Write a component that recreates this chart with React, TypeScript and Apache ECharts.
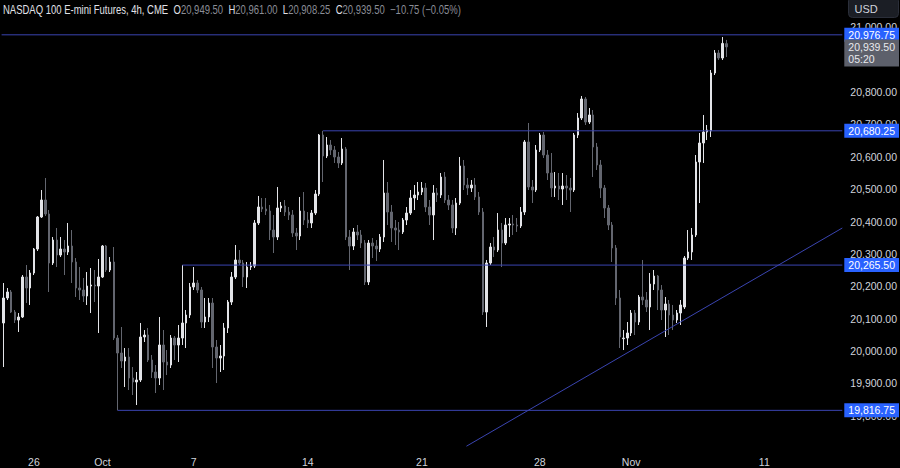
import React, { useEffect, useRef } from "react";
import * as echarts from "echarts";

// ---- data (NASDAQ 100 E-mini, 4h bars) ----
const opens = [
  20086.6, 20163.8, 20182.3, 20120.5, 20095.8, 20105.1, 20228.6, 20194.7, 20241, 20315.1,
  20414, 20466.5, 20423.3, 20271.9, 20342.9, 20296.6, 20315.1, 20305.9, 20324.4, 20275,
  20194.7, 20188.5, 20170, 20200.8, 20203.9, 20200.8, 20228.6, 20324.4, 20250.3, 20275,
  20040.2, 19993.9, 19969.2, 19981.5, 19916.7, 19904.3, 19910.5, 20043.3, 20049.5, 19972.3,
  19935.2, 19916.7, 20018.6, 19966.1, 19956.8, 20040.2, 20018.6, 20040.2, 20086.6, 20111.3,
  20197.8, 20210.1, 20188.5, 20089.6, 20105.1, 20148.3, 20012.4, 19978.4, 19984.6, 20071.1,
  20151.4, 20228.6, 20281.2, 20271.9, 20228.6, 20259.5, 20262.6, 20395.5, 20444.9, 20438.7,
  20432.5, 20373.8, 20352.2, 20441.8, 20448, 20429.4, 20420.2, 20364.6, 20355.3, 20432.5,
  20404.7, 20395.5, 20426.3, 20485, 20667.3, 20602.4, 20636.4, 20620.9, 20599.3, 20580.8,
  20624, 20352.2, 20324.4, 20367.7, 20358.4, 20333.7, 20213.2, 20333.7, 20324.4, 20315.1,
  20352.2, 20488.1, 20429.4, 20380, 20373.8, 20367.7, 20404.7, 20426.3, 20472.7, 20481.9,
  20491.2, 20503.6, 20444.9, 20420.2, 20488.1, 20481.9, 20537.5, 20466.5, 20451.1, 20380,
  20457.2, 20571.5, 20512.8, 20503.6, 20512.8, 20475.8, 20429.4, 20120.5, 20271.9, 20321.3,
  20312, 20373.8, 20333.7, 20389.3, 20392.4, 20389.3, 20386.2, 20429.4, 20645.7, 20506.7,
  20497.4, 20620.9, 20667.3, 20605.5, 20549.9, 20503.6, 20509.7, 20500.5, 20509.7, 20503.6,
  20497.4, 20667.3, 20719.8, 20778.5, 20707.4, 20729.1, 20630.2, 20574.6, 20503.6, 20441.8,
  20389.3, 20318.2, 20163.8, 20038, 20040.2, 20055.7, 20117.4, 20089.6, 20166.9, 20157.6,
  20136, 20207, 20231.7, 20188.5, 20126.7, 20145.2, 20111.3, 20095.8, 20117.4, 20136,
  20287.3, 20305.9, 20358.4, 20583.9, 20642.6, 20676.6, 20680, 20858.8, 20920.6, 20905.1,
  20949.5,
];
const closes = [
  20163.8, 20182.3, 20120.5, 20095.8, 20105.1, 20228.6, 20194.7, 20241, 20315.1, 20414,
  20466.5, 20423.3, 20271.9, 20342.9, 20296.6, 20315.1, 20305.9, 20324.4, 20275, 20194.7,
  20188.5, 20170, 20200.8, 20203.9, 20200.8, 20228.6, 20324.4, 20250.3, 20275, 20040.2,
  19993.9, 19969.2, 19981.5, 19916.7, 19904.3, 19910.5, 20043.3, 20049.5, 19972.3, 19935.2,
  19916.7, 20018.6, 19966.1, 19956.8, 20040.2, 20018.6, 20040.2, 20086.6, 20111.3, 20197.8,
  20210.1, 20188.5, 20089.6, 20105.1, 20148.3, 20012.4, 19978.4, 19984.6, 20071.1, 20151.4,
  20228.6, 20281.2, 20271.9, 20228.6, 20259.5, 20262.6, 20395.5, 20444.9, 20438.7, 20432.5,
  20373.8, 20352.2, 20441.8, 20448, 20429.4, 20420.2, 20364.6, 20355.3, 20432.5, 20404.7,
  20395.5, 20426.3, 20485, 20667.3, 20602.4, 20636.4, 20620.9, 20599.3, 20580.8, 20624,
  20352.2, 20324.4, 20367.7, 20358.4, 20333.7, 20213.2, 20333.7, 20324.4, 20315.1, 20352.2,
  20488.1, 20429.4, 20380, 20373.8, 20367.7, 20404.7, 20426.3, 20472.7, 20481.9, 20491.2,
  20503.6, 20444.9, 20420.2, 20488.1, 20481.9, 20537.5, 20466.5, 20451.1, 20380, 20457.2,
  20571.5, 20512.8, 20503.6, 20512.8, 20475.8, 20429.4, 20120.5, 20271.9, 20321.3, 20312,
  20373.8, 20333.7, 20389.3, 20392.4, 20389.3, 20386.2, 20429.4, 20645.7, 20506.7, 20497.4,
  20620.9, 20667.3, 20605.5, 20549.9, 20503.6, 20509.7, 20500.5, 20509.7, 20503.6, 20497.4,
  20667.3, 20719.8, 20778.5, 20707.4, 20729.1, 20630.2, 20574.6, 20503.6, 20441.8, 20389.3,
  20318.2, 20163.8, 20043.3, 20040.2, 20055.7, 20117.4, 20089.6, 20166.9, 20157.6, 20136,
  20207, 20231.7, 20188.5, 20126.7, 20145.2, 20111.3, 20095.8, 20117.4, 20142.2, 20287.3,
  20305.9, 20358.4, 20583.9, 20642.6, 20676.6, 20682.7, 20858.8, 20920.6, 20905.1, 20950.25,
  20939.5,
];
const lows = [
  19950.6, 20157.6, 20117.4, 20086.6, 20058.8, 20102, 20148.3, 20142.2, 20234.8, 20309,
  20410.9, 20417.1, 20182.3, 20265.7, 20259.5, 20290.4, 20234.8, 20296.6, 20210.1, 20166.9,
  20157.6, 20151.4, 20142.2, 20117.4, 20151.4, 20055.7, 20225.6, 20244.1, 20244.1, 20034,
  19816.75, 19947.5, 19888.9, 19879.6, 19864.1, 19833.3, 19904.3, 20027.9, 19966.1, 19916.7,
  19870.3, 19895, 19879.6, 19925.9, 19947.5, 19972.3, 19966.1, 20018.6, 20009.3, 20102,
  20188.5, 20179.2, 20071.1, 20071.1, 20089.6, 19947.5, 19901.2, 19935.2, 19941.4, 20055.7,
  20142.2, 20222.5, 20265.7, 20197.8, 20194.7, 20250.3, 20256.4, 20389.3, 20429.4, 20420.2,
  20342.9, 20302.8, 20342.9, 20429.4, 20417.1, 20404.7, 20352.2, 20312, 20342.9, 20389.3,
  20380, 20380, 20420.2, 20478.9, 20522.1, 20596.2, 20605.5, 20580.8, 20565.3, 20574.6,
  20342.9, 20250.3, 20312, 20342.9, 20318.2, 20203.9, 20203.9, 20287.3, 20278.1, 20305.9,
  20336.8, 20389.3, 20336.8, 20327.5, 20312, 20361.5, 20389.3, 20420.2, 20435.6, 20466.5,
  20481.9, 20429.4, 20389.3, 20342.9, 20460.3, 20472.7, 20457.2, 20435.6, 20364.6, 20358.4,
  20451.1, 20497.4, 20481.9, 20491.2, 20466.5, 20420.2, 20111.3, 20074.2, 20265.7, 20290.4,
  20305.9, 20259.5, 20327.5, 20352.2, 20358.4, 20367.7, 20380, 20420.2, 20497.4, 20457.2,
  20491.2, 20614.8, 20596.2, 20528.3, 20475.8, 20475.8, 20466.5, 20451.1, 20466.5, 20429.4,
  20491.2, 20658, 20713.6, 20698.2, 20701.3, 20537.5, 20559.2, 20472.7, 20410.9, 20373.8,
  20275, 20142.2, 20009.3, 20003.1, 20018.6, 20046.4, 20049.5, 20080.4, 20142.2, 20120.5,
  20064.9, 20188.5, 20126.7, 20095.8, 20043.3, 20049.5, 20064.9, 20086.6, 20080.4, 20129.8,
  20281.2, 20281.2, 20352.2, 20457.2, 20580.8, 20651.8, 20661.1, 20852.6, 20899, 20899,
  20908.25,
];
const highs = [
  20210.1, 20194.7, 20188.5, 20126.7, 20117.4, 20234.8, 20265.7, 20250.3, 20318.2, 20417.1,
  20497.4, 20534.5, 20435.6, 20352.2, 20380, 20352.2, 20342.9, 20395.5, 20373.8, 20287.3,
  20259.5, 20225.6, 20244.1, 20256.4, 20250.3, 20284.3, 20327.5, 20327.5, 20290.4, 20321.3,
  20049.5, 20074.2, 20009.3, 20009.3, 19950.6, 19935.2, 20086.6, 20064.9, 20071.1, 19987.7,
  19956.8, 20105.1, 20064.9, 20003.1, 20049.5, 20046.4, 20080.4, 20265.5, 20126.7, 20210.1,
  20259.5, 20219.4, 20197.8, 20163.8, 20163.8, 20163.8, 20034, 20018.6, 20086.6, 20157.6,
  20244.1, 20327.5, 20312, 20281.2, 20275, 20275, 20404.7, 20478.9, 20472.7, 20472.7,
  20451.1, 20420.2, 20506.7, 20460.3, 20466.5, 20444.9, 20435.6, 20380, 20475.8, 20491.2,
  20429.4, 20435.6, 20497.4, 20670.4, 20680.25, 20661.1, 20651.8, 20633.3, 20614.8, 20658,
  20630.2, 20373.8, 20380, 20389.3, 20373.8, 20342.9, 20342.9, 20349.1, 20342.9, 20361.5,
  20590.1, 20522.1, 20451.1, 20404.7, 20398.5, 20410.9, 20444.9, 20497.4, 20512.8, 20522.1,
  20522.1, 20519, 20466.5, 20512.8, 20503.6, 20549.9, 20553, 20481.9, 20466.5, 20472.7,
  20599.3, 20590.1, 20534.5, 20528.3, 20534.5, 20491.2, 20441.8, 20281.2, 20333.7, 20352.2,
  20426.3, 20395.5, 20410.9, 20410.9, 20420.2, 20410.9, 20444.9, 20651.8, 20704.4, 20528.3,
  20636.4, 20673.5, 20676.6, 20620.9, 20611.7, 20553, 20549.9, 20549.9, 20543.7, 20534.5,
  20673.5, 20735.2, 20787.8, 20784.7, 20750.7, 20744.5, 20642.6, 20590.1, 20512.8, 20451.1,
  20398.5, 20327.5, 20188.5, 20064.9, 20089.6, 20126.7, 20126.7, 20173, 20281.2, 20182.3,
  20241, 20250.3, 20234.8, 20203.9, 20166.9, 20157.6, 20142.2, 20126.7, 20157.6, 20293.5,
  20373.8, 20380, 20605.5, 20673.5, 20729.1, 20698.2, 20868.1, 20929.8, 20929.8, 20970,
  20961,
];

// number of bar slots on the time axis (includes empty future slots)
const slotCount = 221;
const dateTickIndex = [8, 26, 50, 80, 110, 141, 165, 200];
const dateTickLabel = ["26", "Oct", "7", "14", "21", "28", "Nov", "11"];

// horizontal levels drawn on the chart and the bar where each starts
const levelPrices = [20976.75, 20680.25, 20265.5, 19816.75];
const levelStartBar = [-0.5, 84, 47, 30];

// trend line: [bar, price] endpoints
const trendStart = [121.7, 19706];
const trendEnd = [220.5, 20380];

const priceMin = 19694.3;
const priceMax = 21084.3;
const lowestPriceLabel = 19800;
const countdown = "05:20";
const symbolName = "NASDAQ 100 E-mini Futures, 4h, CME";

const FONT = "'Liberation Sans', Arial, sans-serif";
const LINE_COLOR = "#3a44b0";
const fmt = (v: number) =>
  v.toLocaleString("en-US", { minimumFractionDigits: 2, maximumFractionDigits: 2 });

export default function App() {
  const ref = useRef<HTMLDivElement>(null);

  useEffect(() => {
    if (!ref.current) return;
    const chart = echarts.init(ref.current, null, { renderer: "svg" });

    const categories = Array.from({ length: slotCount }, (_, i) => {
      const k = dateTickIndex.indexOf(i);
      return k >= 0 ? dateTickLabel[k] : "";
    });
    const candles = opens.map((o, i) => [o, closes[i], lows[i], highs[i]]);
    const last = closes.length - 1;
    const lastClose = closes[last];
    const chg = lastClose - closes[last - 1];
    const pct = (chg / closes[last - 1]) * 100;
    const sgn = (v: number) => (v < 0 ? "\u2212" : "+");
    const chgText = `${sgn(chg)}${fmt(Math.abs(chg))} (${sgn(pct)}${Math.abs(pct).toFixed(2)}%)`;

    const tagLabel = {
      show: true,
      distance: 2,
      color: "#ffffff",
      backgroundColor: "#2962ff",
      padding: [2, 4, 1, 4],
      fontSize: 10.5,
      fontFamily: FONT,
    };

    const levelSeries = levelPrices.map((p, k) => ({
      type: "line",
      xAxisIndex: 1,
      data: [
        [levelStartBar[k], p],
        [slotCount - 0.5, p],
      ],
      symbol: "none",
      silent: true,
      z: 4,
      lineStyle: { color: LINE_COLOR, width: 1, type: "solid" },
      itemStyle: { color: LINE_COLOR },
      endLabel: { ...tagLabel, formatter: () => fmt(p) },
    }));

    const lastPriceSeries = {
      type: "line",
      xAxisIndex: 1,
      data: [
        [last, lastClose],
        [slotCount - 0.5, lastClose],
      ],
      symbol: "none",
      silent: true,
      z: 4,
      lineStyle: { color: "rgba(0,0,0,0)", width: 0 },
      endLabel: {
        ...tagLabel,
        formatter: () => `${fmt(lastClose)}\n${countdown}`,
        backgroundColor: "#5d606b",
        color: "#e8e9ed",
        lineHeight: 12,
        padding: [2, 4, 1, 4],
        offset: [0, 6],
      },
    };

    const option: any = {
      animation: false,
      backgroundColor: "#000000",
      grid: { left: 1.6, right: 55, top: 0, bottom: 18, containLabel: false },
      xAxis: [
        {
          type: "category",
          data: categories,
          boundaryGap: true,
          axisLine: { show: false },
          axisTick: { show: false },
          splitLine: { show: false },
          axisLabel: {
            interval: 0,
            color: "#d1d4dc",
            fontSize: 10.5,
            fontFamily: FONT,
            margin: 6,
          },
        },
        { type: "value", min: -0.5, max: slotCount - 0.5, show: false },
      ],
      yAxis: {
        type: "value",
        position: "right",
        min: priceMin,
        max: priceMax,
        splitNumber: 14,
        axisLine: { show: false },
        axisTick: { show: false },
        splitLine: { show: false },
        axisLabel: {
          color: "#d1d4dc",
          fontSize: 10.5,
          fontFamily: FONT,
          margin: 8,
          showMinLabel: false,
          showMaxLabel: false,
          formatter: (v: number) =>
            Math.abs(v % 100) < 1e-6 && v >= lowestPriceLabel && Math.abs(v - lastClose) > 50
              ? fmt(v)
              : "",
        },
      },
      series: [
        {
          type: "candlestick",
          xAxisIndex: 0,
          data: candles,
          barWidth: 2,
          itemStyle: {
            color: "#e3e4e8",
            color0: "#63666f",
            borderColor: "#e3e4e8",
            borderColor0: "#63666f",
            borderWidth: 1,
          },
          silent: true,
        },
        {
          type: "line",
          xAxisIndex: 1,
          data: [trendStart, trendEnd],
          symbol: "none",
          lineStyle: { color: LINE_COLOR, width: 1 },
          itemStyle: { color: LINE_COLOR },
          silent: true,
          z: 3,
        },
        ...levelSeries,
        lastPriceSeries,
      ],
      graphic: [
        {
          type: "text",
          x: 3,
          y: 9,
          scaleX: 0.76,
          z: 100,
          style: {
            text:
              `{n|${symbolName}}  {k|O}{v|${fmt(opens[last])}}  {k|H}{v|${fmt(highs[last])}}  ` +
              `{k|L}{v|${fmt(lows[last])}}  {k|C}{v|${fmt(lastClose)}}  {v|${chgText}}`,
            verticalAlign: "middle",
            fontFamily: FONT,
            fontSize: 12.5,
            rich: {
              n: { fill: "#e0e2e8", fontSize: 12.5, fontFamily: FONT },
              k: { fill: "#e0e2e8", fontSize: 12.5, fontFamily: FONT },
              v: { fill: "#8a8d96", fontSize: 12.5, fontFamily: FONT },
            },
          },
        },
        {
          type: "group",
          right: 1,
          top: -4,
          z: 100,
          children: [
            {
              type: "rect",
              shape: { x: 0, y: 0, width: 50, height: 21, r: 4 },
              style: { fill: "#1b1e25", stroke: "#2a2e39", lineWidth: 1 },
            },
            {
              type: "text",
              x: 6,
              y: 12.5,
              style: {
                text: "USD",
                fill: "#d1d4dc",
                fontSize: 11,
                fontFamily: FONT,
                verticalAlign: "middle",
              },
            },
          ],
        },
      ],
    };

    chart.setOption(option);
    return () => chart.dispose();
  }, []);

  return (
    <div
      ref={ref}
      style={{ position: "fixed", left: 0, top: 0, width: 900, height: 468, background: "#000" }}
    />
  );
}
